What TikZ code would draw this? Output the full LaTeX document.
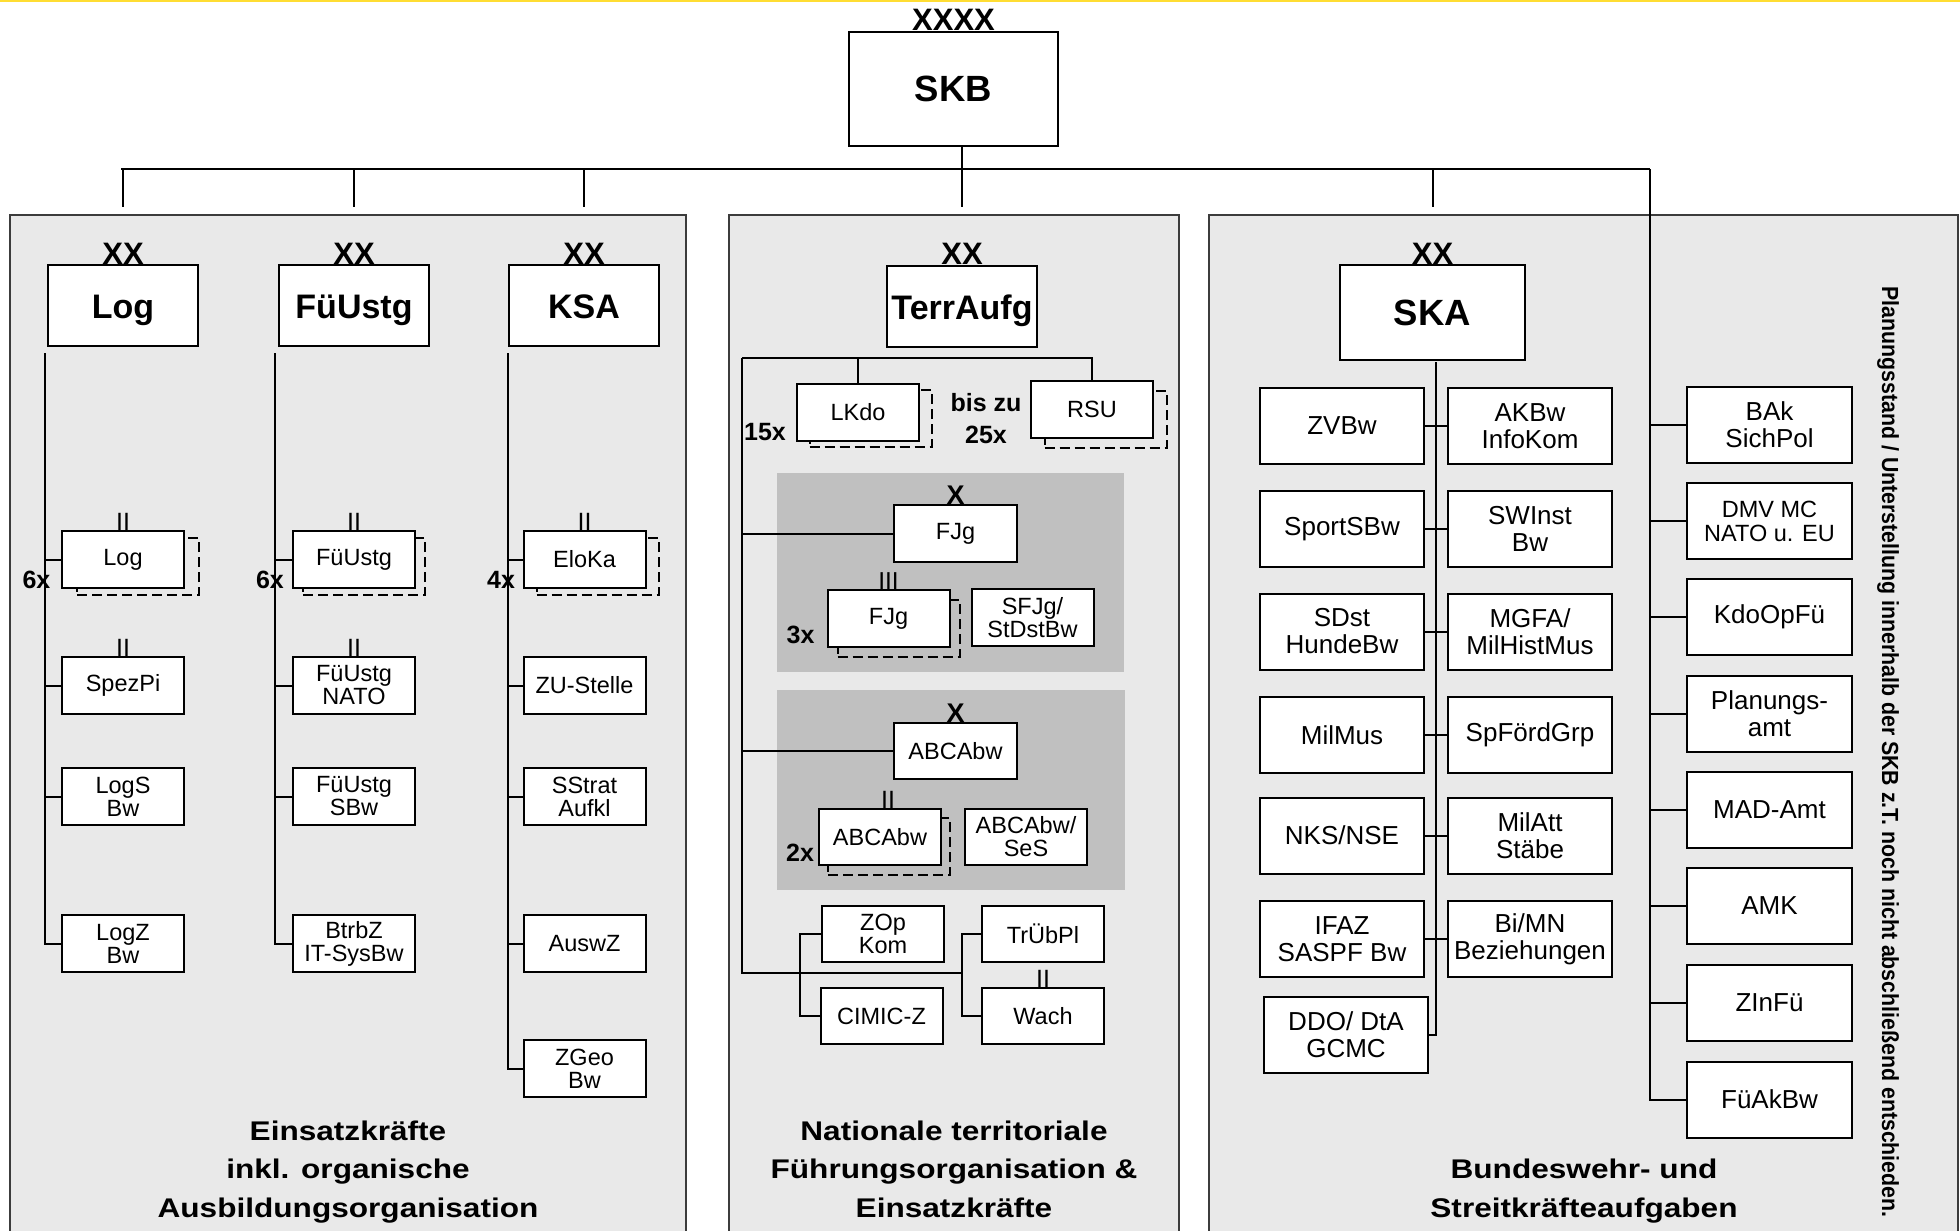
\documentclass[tikz,border=0pt]{standalone}
\usepackage{fontspec}
\setmainfont{Liberation Sans}
\newfontfamily\titlefamily{Liberation Sans}[FakeStretch=1.17]
\newfontfamily\notefamily{Liberation Sans}[FakeStretch=0.915]
\definecolor{panelgray}{HTML}{E9E9E9}
\definecolor{groupgray}{HTML}{C0C0C0}
\definecolor{edgegray}{HTML}{3C3C3C}
\definecolor{topyellow}{HTML}{FFDD33}

\begin{document}
\begin{tikzpicture}[x=1pt, y=-1pt, line width=2pt,
    unitbox/.style={draw, rectangle, fill=white, inner sep=0pt, align=center,
        minimum width=122pt, minimum height=57pt, font=\fontsize{23.5}{23}\selectfont},
    ghostbox/.style={draw, rectangle, dash pattern=on 10pt off 5pt, inner sep=0pt,
        minimum width=122pt, minimum height=57pt},
    bigbox/.style={draw, rectangle, fill=white, inner sep=0pt, minimum width=150pt,
        minimum height=81pt, text height=26pt, text depth=0pt,
        font=\fontsize{34}{34}\selectfont\bfseries},
    topbox/.style={bigbox, font=\fontsize{36.5}{36.5}\selectfont\bfseries},
    skabox/.style={unitbox, minimum width=164pt, minimum height=76pt,
        font=\fontsize{26}{27}\selectfont},
    echelonmark/.style={anchor=base, inner sep=0pt, font=\fontsize{31}{31}\selectfont\bfseries},
    sizemark/.style={anchor=base, inner sep=0pt, font=\fontsize{25}{25}\selectfont},
    countmark/.style={anchor=base, inner sep=0pt, align=center,
        font=\fontsize{25}{32}\selectfont\bfseries},
    paneltitle/.style={anchor=base, inner sep=0pt, align=center,
        font=\titlefamily\fontsize{27}{38.5}\selectfont\bfseries},
    sidenote/.style={rotate=-90, inner sep=0pt, font=\notefamily\fontsize{23.3}{24}\selectfont\bfseries},
    panel/.style={draw=edgegray, fill=panelgray}]
    \useasboundingbox (0,0) rectangle (1960,1231);

    % Background
    \fill[white] (0,0) rectangle (1960,1231);
    \draw[topyellow, line width=3pt] (0,1) -- (1960,1);
    \draw[panel] (10,215) rectangle (686,1245);
    \draw[panel] (729,215) rectangle (1179,1245);
    \draw[panel] (1209,215) rectangle (1958,1245);
    \fill[groupgray] (777,473) rectangle (1124,672);
    \fill[groupgray] (777,690) rectangle (1125,890);

    % Nodes
    \node[topbox, minimum width=209pt, minimum height=114pt] (skb) at (953.5,89) {SKB};
    \node[echelonmark] (skbx) at (skb.north) {XXXX};

    % Einsatzkraefte
    \node[bigbox] (log) at (123,305.5) {Log};
    \node[echelonmark] (logx) at (log.north) {XX};
    \node[bigbox] (fuestg) at (354,305.5) {FüUstg};
    \node[echelonmark] (fuestgx) at (fuestg.north) {XX};
    \node[bigbox] (ksa) at (584,305.5) {KSA};
    \node[echelonmark] (ksax) at (ksa.north) {XX};

    \node[ghostbox] (logAg) at (138,566.5) {};
    \node[unitbox] (logA) at (123,559.5) {Log};
    \node[sizemark] (logAs) at (logA.north) {II};
    \node[unitbox] (spezpi) at (123,685.5) {SpezPi};
    \node[sizemark] (spezpis) at (spezpi.north) {II};
    \node[unitbox] (logs) at (123,796.5) {LogS\\Bw};
    \node[unitbox] (logz) at (123,943.5) {LogZ\\Bw};

    \node[ghostbox] (fuAg) at (364,566.5) {};
    \node[unitbox] (fuA) at (354,559.5) {FüUstg};
    \node[sizemark] (fuAs) at (fuA.north) {II};
    \node[unitbox] (funato) at (354,685.5) {FüUstg\\NATO};
    \node[sizemark] (funatos) at (funato.north) {II};
    \node[unitbox] (fusbw) at (354,796.5) {FüUstg\\SBw};
    \node[unitbox] (btrbz) at (354,943.5) {BtrbZ\\IT-SysBw};

    \node[ghostbox] (elokag) at (597.5,566.5) {};
    \node[unitbox] (eloka) at (584.5,559.5) {EloKa};
    \node[sizemark] (elokas) at (eloka.north) {II};
    \node[unitbox] (zu) at (584.5,685.5) {ZU-Stelle};
    \node[unitbox] (sstrat) at (584.5,796.5) {SStrat\\Aufkl};
    \node[unitbox] (auswz) at (584.5,943.5) {AuswZ};
    \node[unitbox] (zgeo) at (584.5,1068.5) {ZGeo\\Bw};

    \node[paneltitle] (eintitle) at (348,1217) {Einsatzkräfte\\inkl. organische\\Ausbildungsorganisation};

    % TerrAufg
    \node[bigbox] (terr) at (962,306) {TerrAufg};
    \node[echelonmark] (terrx) at (terr.north) {XX};
    \node[ghostbox] (lkdog) at (870.5,418.5) {};
    \node[unitbox] (lkdo) at (858,412.5) {LKdo};
    \node[ghostbox] (rsug) at (1105.5,419.5) {};
    \node[unitbox] (rsu) at (1092,409.5) {RSU};
    \node[countmark] (rsun) at (986,443) {bis zu\\25x};

    \node[unitbox, minimum width=123pt] (fjg) at (955.5,533.5) {FJg};
    \node[echelonmark, font=\fontsize{27}{27}\selectfont\bfseries] (fjgx) at (fjg.north) {X};
    \node[ghostbox] (fjgAg) at (898.5,628.5) {};
    \node[unitbox] (fjgA) at (888.5,618.5) {FJg};
    \node[sizemark, font=\fontsize{24.5}{24.5}\selectfont] (fjgAs) at (fjgA.north) {III};
    \node[countmark] (fjgAn) at (800.5,643) {3x};
    \node[unitbox] (sfjg) at (1032.5,617.5) {SFJg/\\StDstBw};

    \node[unitbox, minimum width=123pt, minimum height=56pt] (abc) at (955.5,751) {ABCAbw};
    \node[echelonmark, font=\fontsize{27}{27}\selectfont\bfseries] (abcx) at (abc.north) {X};
    \node[ghostbox] (abcAg) at (889,846.5) {};
    \node[unitbox, minimum height=56pt] (abcA) at (880,837) {ABCAbw};
    \node[sizemark] (abcAs) at ([xshift=8pt]abcA.north) {II};
    \node[countmark] (abcAn) at (800,861) {2x};
    \node[unitbox, minimum height=56pt] (abcses) at (1026,837) {ABCAbw/\\SeS};

    \node[unitbox, minimum height=56pt] (zop) at (883,934) {ZOp\\Kom};
    \node[unitbox, minimum height=56pt] (cimic) at (881.5,1016) {CIMIC-Z};
    \node[unitbox, minimum height=56pt] (truebpl) at (1043,934) {TrÜbPl};
    \node[unitbox, minimum height=56pt] (wach) at (1043,1016) {Wach};
    \node[sizemark] (wachs) at (wach.north) {II};

    \node[paneltitle] (terrtitle) at (954,1217) {Nationale territoriale\\Führungsorganisation \&\\Einsatzkräfte};

    % SKA
    \node[topbox, minimum width=185pt, minimum height=95pt] (ska) at (1432.5,312.5) {SKA};
    \node[echelonmark] (skax) at (ska.north) {XX};
    \node[skabox] (zvbw) at (1342,426) {ZVBw};
    \node[skabox] (akbw) at (1530,426) {AKBw\\InfoKom};
    \node[skabox] (sportsbw) at (1342,529) {SportSBw};
    \node[skabox] (swinst) at (1530,529) {SWInst\\Bw};
    \node[skabox] (sdst) at (1342,631.5) {SDst\\HundeBw};
    \node[skabox] (mgfa) at (1530,631.5) {MGFA/\\MilHistMus};
    \node[skabox] (milmus) at (1342,735) {MilMus};
    \node[skabox] (spfoerd) at (1530,735) {SpFördGrp};
    \node[skabox] (nks) at (1342,835.5) {NKS/NSE};
    \node[skabox] (milatt) at (1530,835.5) {MilAtt\\Stäbe};
    \node[skabox] (ifaz) at (1342,939) {IFAZ\\SASPF Bw};
    \node[skabox] (bimn) at (1530,939) {Bi/MN\\Beziehungen};
    \node[skabox] (ddo) at (1346,1035) {DDO/ DtA\\GCMC};

    \node[skabox, minimum width=165pt] (bak) at (1769.5,424.5) {BAk\\SichPol};
    \node[skabox, minimum width=165pt, font=\fontsize{23.5}{24}\selectfont] (dmv) at (1769.5,521) {DMV MC\\NATO u. EU};
    \node[skabox, minimum width=165pt] (kdoopfue) at (1769.5,617) {KdoOpFü};
    \node[skabox, minimum width=165pt] (plamt) at (1769.5,714) {Planungs-\\amt};
    \node[skabox, minimum width=165pt] (mad) at (1769.5,810) {MAD-Amt};
    \node[skabox, minimum width=165pt] (amk) at (1769.5,906) {AMK};
    \node[skabox, minimum width=165pt] (zinfue) at (1769.5,1002.5) {ZInFü};
    \node[skabox, minimum width=165pt] (fueakbw) at (1769.5,1099.5) {FüAkBw};

    \node[sidenote] (planung) at (1888,752) {Planungsstand / Unterstellung innerhalb der SKB z.T. noch nicht abschließend entschieden.};
    \node[paneltitle] (skatitle) at (1584,1217) {Bundeswehr- und\\Streitkräfteaufgaben};

    % Edges
    \coordinate (busL) at (121,169);
    \coordinate (busR) at (1650,169);
    \draw (busL) -- (busR);
    \draw (skb.south -| terr.north) -- (terr.north |- busL) -- ++(0,38);
    \draw (log.north |- busL) -- ++(0,38);
    \draw (fuestg.north |- busL) -- ++(0,38);
    \draw (ksa.north |- busL) -- ++(0,38);
    \draw (ska.north |- busL) -- ++(0,38);

    \coordinate (logbus) at (45,353);
    \draw (logbus) |- (logz.west);
    \draw (logA.west) -- (logA.west -| logbus);
    \draw (spezpi.west) -- (spezpi.west -| logbus);
    \draw (logs.west) -- (logs.west -| logbus);
    \coordinate (fuestgbus) at (275,353);
    \draw (fuestgbus) |- (btrbz.west);
    \draw (fuA.west) -- (fuA.west -| fuestgbus);
    \draw (funato.west) -- (funato.west -| fuestgbus);
    \draw (fusbw.west) -- (fusbw.west -| fuestgbus);
    \coordinate (ksabus) at (508,353);
    \draw (ksabus) |- (zgeo.west);
    \draw (eloka.west) -- (eloka.west -| ksabus);
    \draw (zu.west) -- (zu.west -| ksabus);
    \draw (sstrat.west) -- (sstrat.west -| ksabus);
    \draw (auswz.west) -- (auswz.west -| ksabus);
    \node[countmark] (logAn) at (36.5,588) {6x};
    \node[countmark] (fuAn) at (270,588) {6x};
    \node[countmark] (elokan) at (501,588) {4x};

    \coordinate (terrbus) at (742,358);
    \coordinate (terrend) at (963,973);
    \draw (terrbus) -| (rsu.north);
    \draw (lkdo.north) -- (lkdo.north |- terrbus);
    \draw (terrbus) |- (terrend);
    \draw (fjg.west) -- (fjg.west -| terrbus);
    \draw (abc.west) -- (abc.west -| terrbus);
    \draw (truebpl.west) -- ++(-19,0) |- (wach.west);
    \draw (zop.west) -- ++(-21,0) |- (cimic.west);
    \node[countmark] (lkdon) at (765,440) {15x};

    \coordinate (skabus) at (1436,362);
    \draw (skabus) |- (ddo.east);
    \draw (zvbw.east) -- (akbw.west);
    \draw (sportsbw.east) -- (swinst.west);
    \draw (sdst.east) -- (mgfa.west);
    \draw (milmus.east) -- (spfoerd.west);
    \draw (nks.east) -- (milatt.west);
    \draw (ifaz.east) -- (bimn.west);

    \draw (busR) |- (fueakbw.west);
    \draw (bak.west) -- (bak.west -| busR);
    \draw (dmv.west) -- (dmv.west -| busR);
    \draw (kdoopfue.west) -- (kdoopfue.west -| busR);
    \draw (plamt.west) -- (plamt.west -| busR);
    \draw (mad.west) -- (mad.west -| busR);
    \draw (amk.west) -- (amk.west -| busR);
    \draw (zinfue.west) -- (zinfue.west -| busR);
\end{tikzpicture}
\end{document}
